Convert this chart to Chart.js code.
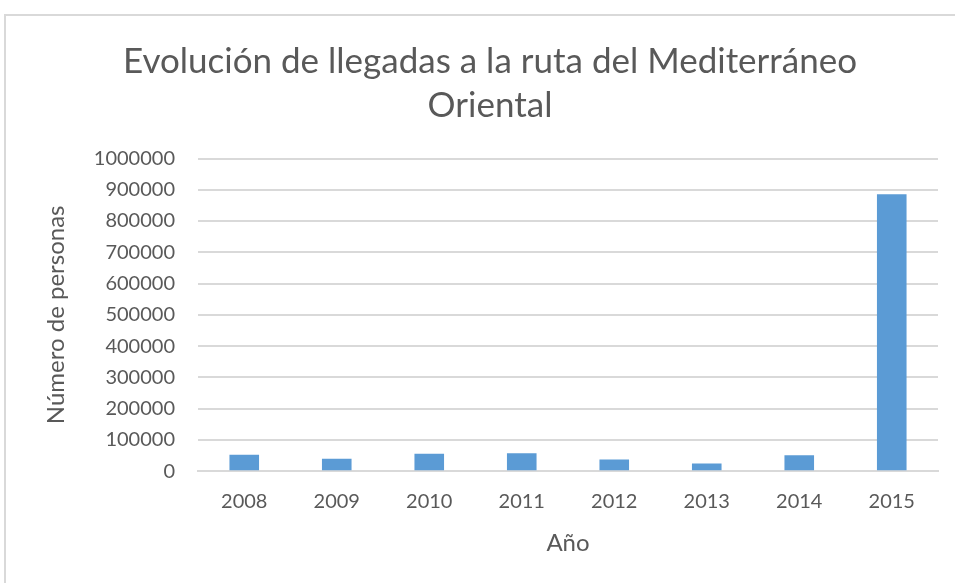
<!DOCTYPE html>
<html>
<head>
<meta charset="utf-8">
<script src="https://cdn.jsdelivr.net/npm/chart.js@4"></script>
<style>
  html, body { margin: 0; padding: 0; background: #fff; }
  #frame { position: absolute; left: 4px; top: 14px; width: 960px; height: 580px;
           border-top: 2px solid #d9d9d9; border-left: 2px solid #d9d9d9; box-sizing: border-box; }
  #wrap { position: absolute; left: 0; top: 0; width: 955px; height: 583px; }
</style>
</head>
<body>
<div id="frame"></div>
<div id="wrap"><canvas id="c" width="955" height="583"></canvas></div>
<script>
// data
const years = ['2008', '2009', '2010', '2011', '2012', '2013', '2014', '2015']
const arrivals = [52300, 39975, 55688, 57025, 37224, 24799, 50834, 885386]
const titleLines = ['Evolución de llegadas a la ruta del Mediterráneo', 'Oriental']

const grey = '#595959'
const fontFam = 'Lato, "Open Sans", sans-serif'

new Chart(document.getElementById('c').getContext('2d'), {
  type: 'bar',
  data: {
    labels: years,
    datasets: [{
      label: 'Llegadas',
      data: arrivals,
      backgroundColor: '#5b9bd5',
      categoryPercentage: 1,
      barPercentage: 0.32
    }]
  },
  options: {
    responsive: false,
    animation: false,
    layout: { padding: { left: 42, right: 17, top: 40, bottom: 25 } },
    plugins: {
      legend: { display: false },
      tooltip: { enabled: false },
      title: {
        display: true,
        text: titleLines,
        color: grey,
        font: { family: fontFam, size: 35, weight: 'normal', lineHeight: 1.25 },
        padding: { top: 0, bottom: 31 }
      }
    },
    scales: {
      x: {
        grid: { display: false },
        border: { color: '#d9d9d9', width: 2 },
        ticks: { color: grey, font: { family: fontFam, size: 20 }, padding: 10 },
        title: { display: true, text: 'Año', color: grey, font: { family: fontFam, size: 24 }, padding: { top: 6, bottom: 0 } }
      },
      y: {
        min: 0,
        max: 1000000,
        ticks: { stepSize: 100000, color: grey, font: { family: fontFam, size: 20 }, padding: 23,
                 callback: v => String(v) },
        grid: { color: '#d9d9d9', lineWidth: 2, drawTicks: false },
        border: { display: false },
        title: { display: true, text: 'Número de personas', color: grey, font: { family: fontFam, size: 24 }, padding: { top: 0, bottom: 0 } }
      }
    }
  }
})
</script>
</body>
</html>
